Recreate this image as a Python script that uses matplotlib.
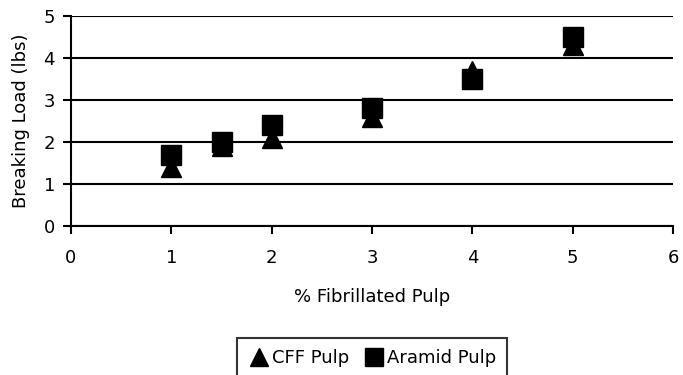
import matplotlib
matplotlib.use("Agg")
import matplotlib.pyplot as plt

# data
pulp_pct = [1, 1.5, 2, 3, 4, 5]
cff_load = [1.4, 1.9, 2.1, 2.6, 3.7, 4.3]
aramid_load = [1.7, 2.0, 2.4, 2.8, 3.5, 4.5]

plt.rcParams['font.family'] = ['DejaVu Sans']

fig = plt.figure(figsize=(6.83, 3.75), dpi=100)
# axes box in pixels: x 71..673, y 16..226
ax = fig.add_axes([71/683, 1 - 226/375, (673-71)/683, (226-16)/375])

ax.plot(pulp_pct, cff_load, linestyle='none', marker='^', color='black',
        markersize=15, label='CFF Pulp', zorder=3, clip_on=False)
ax.plot(pulp_pct, aramid_load, linestyle='none', marker='s', color='black',
        markersize=15, label='Aramid Pulp', zorder=4, clip_on=False)

ax.set_xlim(0, 6)
ax.set_ylim(0, 5)
ax.set_xticks(range(0, 7))
ax.set_yticks(range(0, 6))
ax.yaxis.grid(True, color='black', linewidth=1.5)
ax.set_axisbelow(True)
for s in ['top', 'right']:
    ax.spines[s].set_visible(False)
for s in ['left', 'bottom']:
    ax.spines[s].set_linewidth(1.5)
ax.tick_params(axis='both', direction='out', length=5.5, width=1.5, labelsize=13)
ax.tick_params(axis='x', pad=11)
ax.tick_params(axis='y', pad=6)

ax.set_xlabel('% Fibrillated Pulp', fontsize=13, labelpad=15)
ax.set_ylabel('Breaking Load (lbs)', fontsize=13, labelpad=10)

leg = fig.legend(loc='upper center', bbox_to_anchor=(372/683, 1 - 338/375), ncol=2,
                 frameon=True, fancybox=False, edgecolor='black', fontsize=13,
                 handletextpad=0.1, columnspacing=0.8, handlelength=1.2,
                 borderpad=0.6, borderaxespad=0, markerscale=0.85)
leg.get_frame().set_linewidth(1.5)

fig.savefig('out.png', dpi=100)
